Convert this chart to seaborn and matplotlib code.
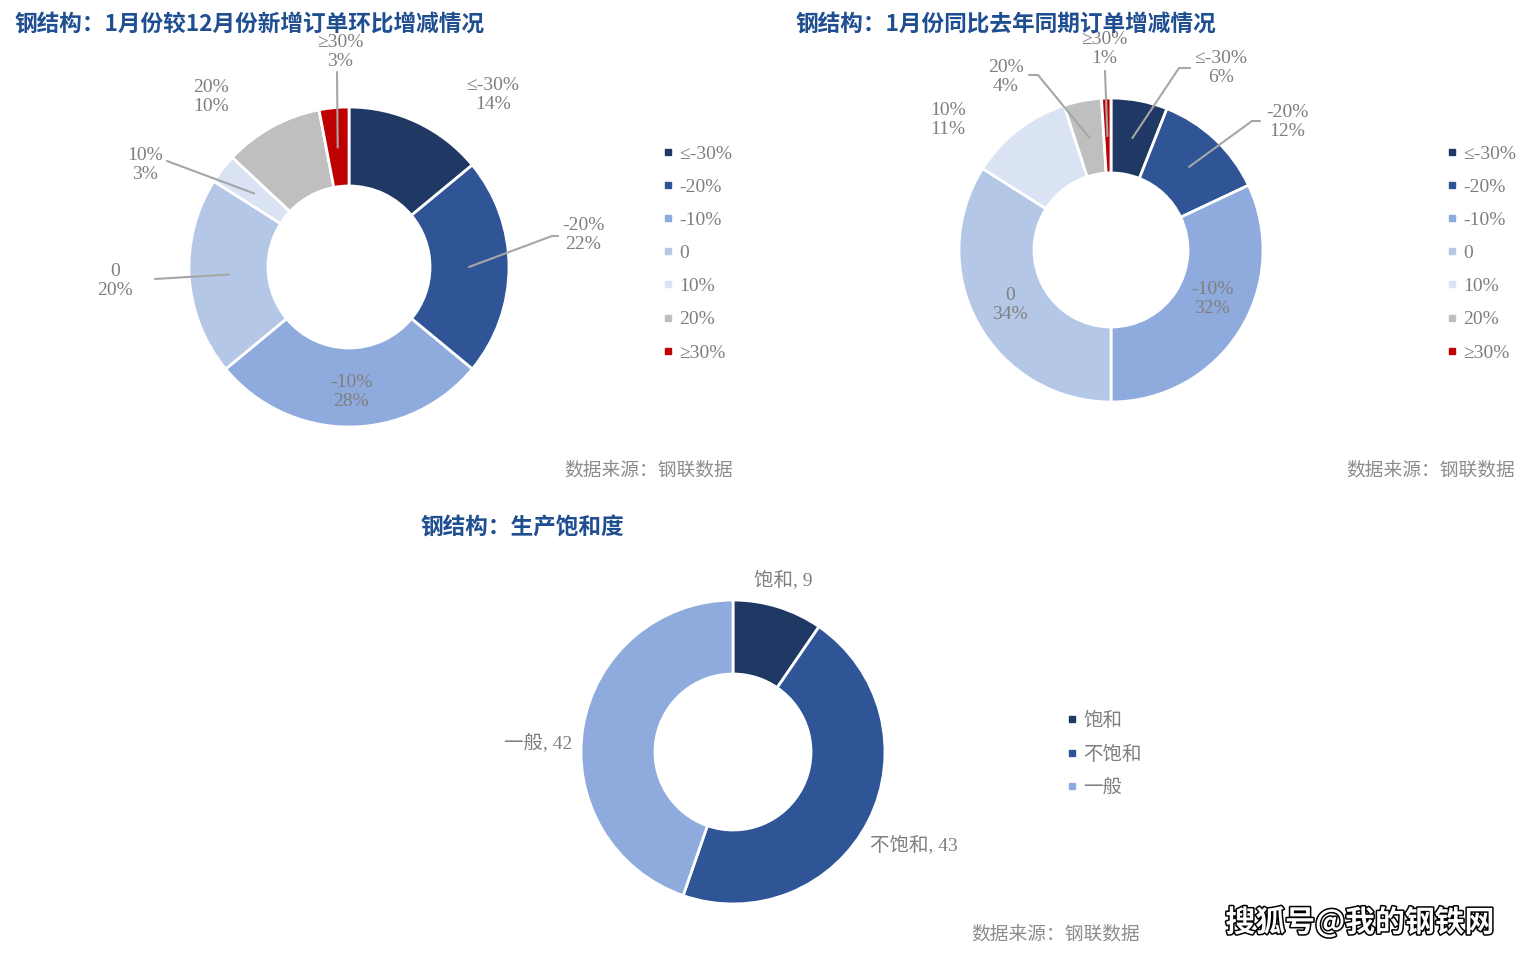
import matplotlib.pyplot as plt
import matplotlib.patheffects as pe
from matplotlib.lines import Line2D
import seaborn as sns
import numpy as np

sns.set_theme(style="white")
plt.rcParams['font.family'] = ['Liberation Serif', 'Noto Sans CJK SC', 'DejaVu Sans']

W, H = 1533, 956

# data
change_labels = ["≤-30%", "-20%", "-10%", "0", "10%", "20%", "≥30%"]
mom_values = [14, 22, 28, 20, 3, 10, 3]    # 1月份较12月份 环比
yoy_values = [6, 12, 32, 34, 11, 4, 1]     # 同比去年同期
sat_labels = ["饱和", "不饱和", "一般"]
sat_values = [9, 43, 42]

change_colors = sns.color_palette(["#203864", "#2F5597", "#8FAADC", "#B4C7E7",
                                   "#DAE3F3", "#BFBFBF", "#C00000"])
sat_colors = change_colors[:3]

label_gray = "#7F7F7F"
lead_gray = "#A6A6A6"
title_blue = "#1F4E91"
cjk = ['Noto Sans CJK SC', 'DejaVu Sans']

fig = plt.figure(figsize=(W / 100, H / 100), dpi=100)
ax = fig.add_axes([0, 0, 1, 1])


def donut(values, colors, center, radius, hole):
    # y axis is flipped later, so startangle -90 is "up" and ccw reads as clockwise
    wedges, _ = ax.pie(values, colors=colors, center=center, radius=radius,
                       startangle=-90, counterclock=True, frame=True,
                       wedgeprops=dict(width=radius - hole, edgecolor="white", linewidth=2))
    return wedges


def put_labels(wedges, center, radius, texts, spots):
    for w, txt, (pos, path) in zip(wedges, texts, spots):
        ax.text(pos[0], pos[1], txt, ha="center", va="center", fontsize=14,
                color=label_gray, linespacing=1.22)
        if path is None:
            continue
        mid = np.deg2rad((w.theta1 + w.theta2) / 2)
        start = (center[0] + 0.75 * radius * np.cos(mid),
                 center[1] + 0.75 * radius * np.sin(mid))
        pts = [start] + path
        ax.plot([p[0] for p in pts], [p[1] for p in pts], color=lead_gray, lw=1.5)


# chart 1: month on month
c1, r1 = (349, 267), 160
w1 = donut(mom_values, change_colors, c1, r1, 81)
spots1 = [((493, 95), None),
          ((583, 235), [(552, 236), (558, 236)]),
          ((351, 392), None),
          ((115, 281), [(155, 279)]),
          ((145, 165), [(167, 161)]),
          ((211, 97), None),
          ((340, 52), [(337, 72)])]
put_labels(w1, c1, r1, [f"{l}\n{v}%" for l, v in zip(change_labels, mom_values)], spots1)

# chart 2: year on year
c2, r2 = (1111, 250), 152
w2 = donut(yoy_values, change_colors, c2, r2, 77)
spots2 = [((1221, 68), [(1179, 68), (1190, 68)]),
          ((1287, 122), [(1252, 121), (1260, 121)]),
          ((1212, 299), None),
          ((1010, 305), None),
          ((948, 120), None),
          ((1006, 77), [(1038, 75), (1029, 75)]),
          ((1104, 49), [(1105, 71)])]
put_labels(w2, c2, r2, [f"{l}\n{v}%" for l, v in zip(change_labels, yoy_values)], spots2)

# chart 3: saturation
c3, r3 = (733, 752), 152
w3 = donut(sat_values, sat_colors, c3, r3, 78)
spots3 = [((783, 581), None), ((914, 846), None), ((538, 744), None)]
put_labels(w3, c3, r3, [f"{l}, {v}" for l, v in zip(sat_labels, sat_values)], spots3)

ax.set_xlim(0, W)
ax.set_ylim(H, 0)
ax.set_aspect("equal", adjustable="box")
ax.axis("off")


def legend(labels, colors, anchor):
    handles = [Line2D([], [], marker="s", linestyle="", color=c, markersize=5) for c in colors]
    lg = fig.legend(handles, labels, loc="upper left", bbox_to_anchor=anchor,
                    bbox_transform=ax.transData, frameon=False, fontsize=14,
                    labelcolor=label_gray, handlelength=0.45, handletextpad=0.35,
                    labelspacing=0.8, borderpad=0, borderaxespad=0)
    return lg


legend(change_labels, change_colors, (664, 145))
legend(change_labels, change_colors, (1448, 145))
legend(sat_labels, sat_colors, (1068, 712))

# titles
ax.text(14, 24, "钢结构：1月份较12月份新增订单环比增减情况", ha="left", va="center",
        fontsize=16.3, weight="bold", color=title_blue, family=cjk)
ax.text(795, 24, "钢结构：1月份同比去年同期订单增减情况", ha="left", va="center",
        fontsize=16.3, weight="bold", color=title_blue, family=cjk)
ax.text(420, 528, "钢结构：生产饱和度", ha="left", va="center",
        fontsize=16.3, weight="bold", color=title_blue, family=cjk)

# sources
for x, y in [(733, 470), (1515, 470), (1140, 934)]:
    ax.text(x, y, "数据来源：钢联数据", ha="right", va="center", fontsize=13.5,
            color="#8C8C8C", family=cjk)

# watermark
ax.text(1360, 922, "搜狐号@我的钢铁网", ha="center", va="center", fontsize=21.5,
        color="white", weight="bold", family=cjk,
        path_effects=[pe.withStroke(linewidth=2.2, foreground="black")])

fig.savefig("out.png", dpi=100)
